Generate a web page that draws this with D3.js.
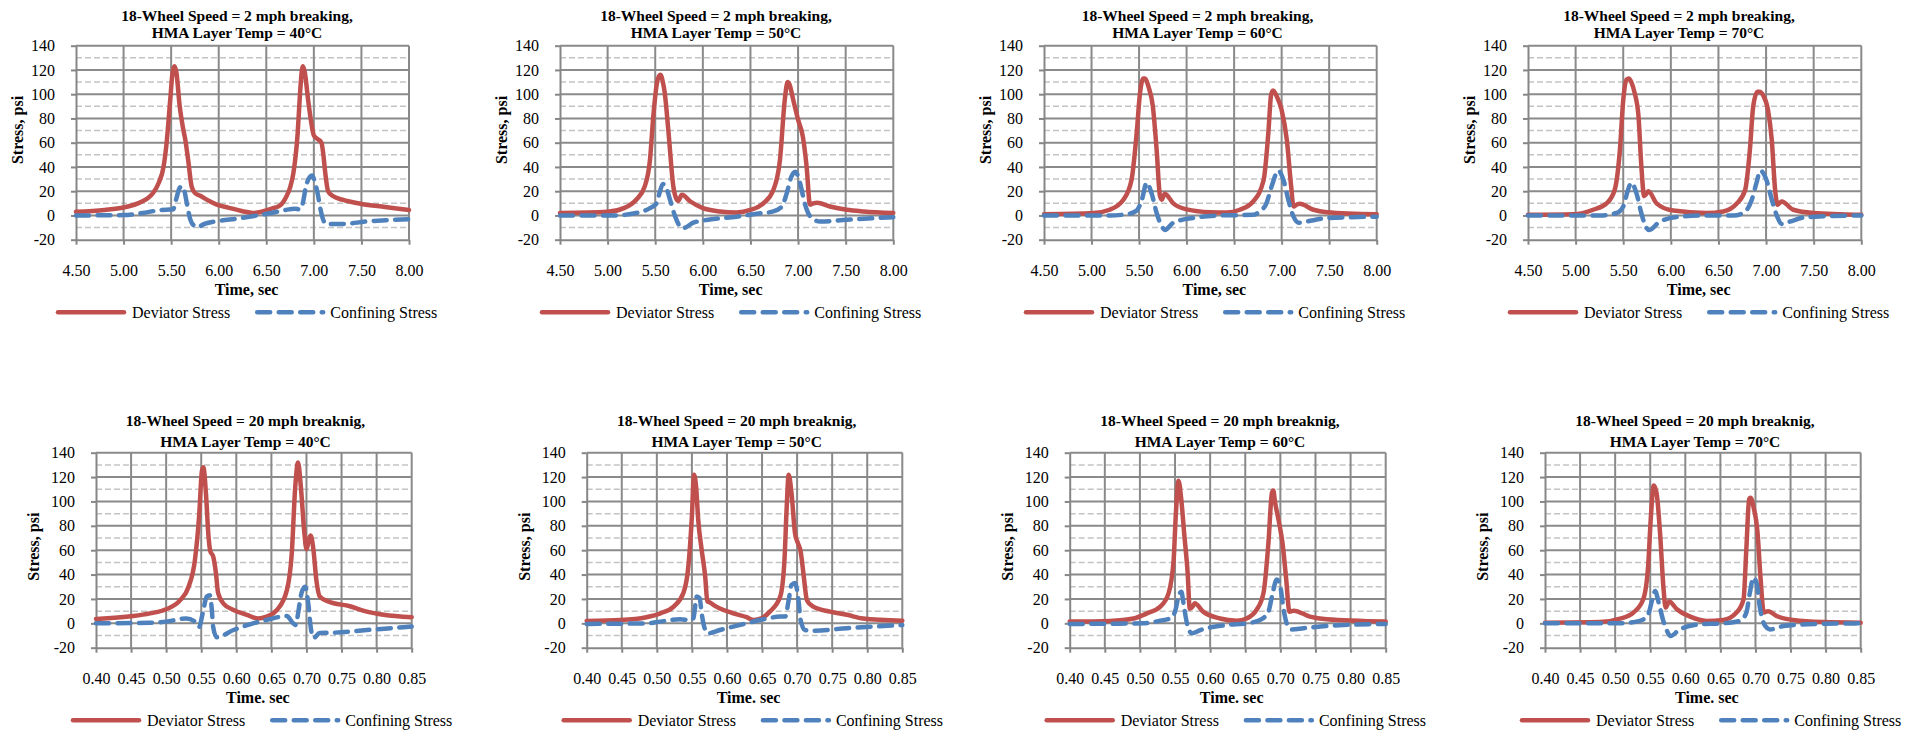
<!DOCTYPE html>
<html>
<head>
<meta charset="utf-8">
<script src="https://cdn.jsdelivr.net/npm/d3@7"></script>
<style>
  html, body { margin: 0; padding: 0; background: #ffffff; }
  svg { display: block; }
</style>
</head>
<body>
<svg id="fig" width="1913" height="732"></svg>
<script>
// ---- Text and tick values ----
const speedTitles = ["18-Wheel Speed = 2 mph breaking,", "18-Wheel Speed = 20 mph breaknig,"];
const tempLabels = ["40°C", "50°C", "60°C", "70°C"];
const xAxisTitles = ["Time, sec", "Time. sec"];
const yAxisTitle = "Stress, psi";
const seriesNames = ["Deviator Stress", "Confining Stress"];
const yTicks = [-20, 0, 20, 40, 60, 80, 100, 120, 140];
const yMinor = [-10, 10, 30, 50, 70, 90, 110, 130];
const xTicks2mph = [4.5, 5.0, 5.5, 6.0, 6.5, 7.0, 7.5, 8.0];
const xTicks20mph = [0.40, 0.45, 0.50, 0.55, 0.60, 0.65, 0.70, 0.75, 0.80, 0.85];

// ---- 2 mph braking: [time (s), stress (psi)] ----
const dev2mph40 = [[4.50,3],[4.80,4.5],[5.00,6.5],[5.15,10],[5.25,14],[5.31,18.5],[5.37,27],[5.42,40],[5.45,58],[5.49,95],[5.515,118],[5.535,123],[5.555,118],[5.59,90],[5.625,72],[5.65,62],[5.68,45],[5.715,24],[5.75,18.5],[5.80,16.5],[5.90,12],[5.98,9],[6.10,6.5],[6.25,3.5],[6.36,2],[6.45,3],[6.55,5.5],[6.64,8],[6.71,15.5],[6.75,23],[6.785,35],[6.83,68],[6.855,101],[6.875,120],[6.885,123],[6.905,118],[6.94,95],[6.97,78],[7.00,66],[7.04,63],[7.08,60],[7.10,50],[7.12,35],[7.15,20],[7.20,16],[7.30,13],[7.50,9.5],[7.75,7],[8.00,4.5]];
const conf2mph40 = [[4.50,0],[5.00,0.3],[5.20,2],[5.35,4],[5.49,5],[5.52,5],[5.555,14],[5.585,22],[5.61,24],[5.64,20],[5.665,10],[5.70,-3],[5.735,-8],[5.78,-9.5],[5.85,-7],[6.00,-4.5],[6.20,-2.5],[6.40,0],[6.55,2],[6.70,4.5],[6.80,5.5],[6.85,5],[6.88,9],[6.92,25],[6.96,32],[6.98,33],[7.01,28],[7.04,18],[7.07,5],[7.10,-4],[7.13,-7],[7.30,-7],[7.55,-5],[7.80,-3.8],[8.00,-3]];

const dev2mph50 = [[4.50,2],[5.00,3],[5.17,6],[5.30,13],[5.39,24],[5.445,46],[5.48,82],[5.525,112],[5.555,116],[5.58,110],[5.60,101],[5.64,68],[5.69,24],[5.72,14],[5.74,12],[5.78,17],[5.87,11.5],[6.00,6],[6.18,3.3],[6.35,2.5],[6.50,4.5],[6.635,10],[6.74,21],[6.81,46],[6.86,95],[6.89,110],[6.91,108],[6.95,95],[7.00,79],[7.05,65],[7.09,40],[7.125,9],[7.16,10],[7.20,10.5],[7.335,7.4],[7.51,4.7],[7.69,3.3],[8.00,2]];
const conf2mph50 = [[4.50,0],[5.06,0],[5.30,2],[5.445,6],[5.515,10],[5.55,20],[5.58,26],[5.61,24],[5.655,13],[5.71,-1],[5.76,-9],[5.795,-10.4],[5.90,-6],[6.11,-3],[6.355,-1],[6.565,1.4],[6.74,3.3],[6.83,7.4],[6.88,18],[6.93,32],[6.97,36],[7.02,27],[7.07,10],[7.14,-2],[7.23,-5],[7.51,-3.6],[8.00,-1.4]];

const dev2mph60 = [[4.50,1],[5.02,2],[5.19,4.7],[5.335,13],[5.42,29],[5.475,68],[5.51,101],[5.545,113],[5.56,113],[5.60,106],[5.645,90],[5.685,54],[5.72,16],[5.74,13],[5.77,18],[5.86,10],[6.00,5],[6.25,2.7],[6.42,2.5],[6.56,4.7],[6.70,11.5],[6.81,29],[6.86,68],[6.89,100],[6.91,103],[6.95,98],[7.00,87],[7.055,62],[7.10,24],[7.125,7.4],[7.16,9],[7.19,9.6],[7.335,4.7],[7.475,2.7],[8.00,1]];
const conf2mph60 = [[4.50,0],[5.19,0],[5.37,1],[5.475,4],[5.53,13],[5.58,27],[5.633,18],[5.685,2],[5.74,-9],[5.77,-12],[5.86,-6],[6.07,-2],[6.35,0],[6.70,0.5],[6.77,3.3],[6.84,10],[6.895,24],[6.965,37],[7.02,29],[7.07,13],[7.125,-1],[7.18,-6],[7.26,-5],[7.475,-2.2],[8.00,-1]];

const dev2mph70 = [[4.50,0.5],[4.975,1],[5.185,4.7],[5.325,10],[5.41,21],[5.465,54],[5.50,95],[5.535,112],[5.56,113],[5.585,110],[5.62,101],[5.66,82],[5.69,41],[5.72,16],[5.745,18],[5.765,20],[5.85,10],[6.025,4],[6.375,2],[6.55,3.3],[6.69,9.6],[6.78,21],[6.83,54],[6.865,90],[6.91,102],[6.93,102],[6.97,99],[7.02,87],[7.06,62],[7.095,21],[7.12,8.8],[7.165,11.5],[7.285,4.7],[7.495,2],[8.00,0.5]];
const conf2mph70 = [[4.50,0],[5.255,0],[5.43,2],[5.50,7.4],[5.55,21],[5.585,27],[5.64,18],[5.69,2],[5.745,-10.4],[5.775,-12],[5.885,-5],[6.095,-1],[6.375,0],[6.655,0],[6.76,2],[6.85,13],[6.90,27],[6.94,37],[7.005,29],[7.06,13],[7.11,0.5],[7.165,-7],[7.25,-5],[7.425,-1.4],[8.00,0]];

// ---- 20 mph braking: [time (s), stress (psi)] ----
const dev20mph40 = [[0.40,3.6],[0.453,6],[0.477,8.2],[0.50,11.5],[0.52,19],[0.532,30],[0.541,52],[0.547,88],[0.551,125],[0.553,128],[0.557,104],[0.56,74],[0.563,59],[0.567,55],[0.571,41],[0.574,25],[0.582,16],[0.596,11],[0.615,7],[0.631,4],[0.643,5.5],[0.658,11],[0.672,27],[0.679,57],[0.684,112],[0.688,132],[0.692,112],[0.697,74],[0.70,61],[0.704,70],[0.706,72],[0.71,60],[0.714,36],[0.719,22],[0.731,18],[0.762,14],[0.786,9.6],[0.81,7],[0.85,5]];
const conf20mph40 = [[0.40,0],[0.477,0.5],[0.50,1.4],[0.529,4],[0.541,1.4],[0.547,-3],[0.552,8],[0.558,22],[0.562,23],[0.565,12],[0.567,-3],[0.572,-11.5],[0.596,-5.5],[0.624,0],[0.643,2.7],[0.672,6],[0.681,0],[0.685,-1.4],[0.688,8],[0.693,25],[0.698,30],[0.703,14],[0.706,-3],[0.71,-12],[0.719,-8],[0.738,-7.7],[0.786,-5.5],[0.85,-2.7]];

const dev20mph50 = [[0.40,2],[0.448,2.7],[0.485,5],[0.505,8.2],[0.524,13.7],[0.538,25],[0.545,47],[0.55,88],[0.553,122],[0.556,112],[0.559,85],[0.564,60],[0.569,38],[0.572,18],[0.576,17],[0.581,15],[0.609,8.2],[0.628,5],[0.638,2.7],[0.649,4],[0.661,9.6],[0.676,22],[0.682,52],[0.685,93],[0.688,122],[0.692,107],[0.697,74],[0.701,66],[0.705,59],[0.709,41],[0.714,19],[0.723,13.7],[0.747,9.6],[0.771,7],[0.794,4],[0.85,2.2]];
const conf20mph50 = [[0.40,-0.5],[0.485,0],[0.505,1.4],[0.533,3.3],[0.547,2.7],[0.552,4],[0.557,22],[0.561,20.6],[0.564,8],[0.569,-5.5],[0.573,-8.2],[0.59,-5.5],[0.628,0],[0.652,3.3],[0.676,5.5],[0.683,5.5],[0.688,19],[0.692,31.5],[0.697,33],[0.702,19],[0.705,2.7],[0.711,-5.5],[0.723,-6],[0.771,-4],[0.85,-1.4]];

const dev20mph60 = [[0.40,1.4],[0.457,2],[0.491,4],[0.51,8.2],[0.529,13.7],[0.541,25],[0.548,52],[0.551,88],[0.555,117],[0.559,101],[0.563,74],[0.568,41],[0.571,12],[0.575,13.7],[0.578,16.5],[0.59,9.6],[0.614,4],[0.638,2.2],[0.652,4],[0.666,11],[0.676,25],[0.683,66],[0.688,107],[0.69,109],[0.692,101],[0.699,80],[0.703,66],[0.708,38],[0.713,9.6],[0.719,10.4],[0.742,5.5],[0.766,3.3],[0.85,1.4]];
const conf20mph60 = [[0.40,-0.5],[0.505,0],[0.529,2.2],[0.543,4],[0.55,9.6],[0.555,22],[0.559,26],[0.562,16.5],[0.567,0],[0.574,-8.2],[0.586,-5.5],[0.624,-1.4],[0.652,0],[0.671,2.7],[0.683,9.6],[0.688,22],[0.695,36],[0.70,30],[0.704,13.7],[0.709,0],[0.716,-5],[0.733,-4],[0.766,-2.2],[0.85,-0.5]];

const dev20mph70 = [[0.40,0.5],[0.478,1],[0.507,3.8],[0.526,8.8],[0.54,19.7],[0.547,47],[0.551,88],[0.555,113],[0.559,107],[0.564,74],[0.569,28],[0.572,12.9],[0.577,18],[0.588,11.5],[0.607,5.5],[0.63,2],[0.654,2.7],[0.673,8.8],[0.683,19.7],[0.687,61],[0.691,102],[0.693,103],[0.697,96],[0.703,74],[0.707,39],[0.712,8.8],[0.718,10],[0.73,6],[0.754,2.7],[0.797,1],[0.85,0.5]];
const conf20mph70 = [[0.40,0],[0.507,0],[0.535,2],[0.547,7.4],[0.554,22],[0.557,26.5],[0.562,17],[0.568,3.3],[0.573,-5],[0.579,-10.4],[0.592,-5],[0.621,-0.8],[0.654,0],[0.678,2],[0.687,8.8],[0.692,25],[0.697,37.5],[0.702,32],[0.706,14],[0.714,-2.2],[0.721,-5],[0.74,-2.2],[0.773,-0.8],[0.85,0]];

const devSeries = [dev2mph40, dev2mph50, dev2mph60, dev2mph70, dev20mph40, dev20mph50, dev20mph60, dev20mph70];
const confSeries = [conf2mph40, conf2mph50, conf2mph60, conf2mph70, conf20mph40, conf20mph50, conf20mph60, conf20mph70];

// ---- Layout of the eight plot areas ----
const rows = [
  { top: 45.7, bottom: 239.7, lefts: [76, 560, 1044, 1528], rights: [409, 893.3, 1376.7, 1861.3],
    titleX: [237, 716, 1197.5, 1679], title1: 20.7, title2: 38.3, yTitleDx: -59, yTitleDy: -12.7,
    legendDx: -20, ticks: xTicks2mph, domain: [4.5, 8.0] },
  { top: 452.7, bottom: 647.7, lefts: [96, 586.7, 1069.7, 1545], rights: [411.7, 902.3, 1385.7, 1860.7],
    titleX: [245.5, 736.7, 1220, 1695], title1: 426, title2: 446.7, yTitleDx: -62.5, yTitleDy: -3.5,
    legendDx: -25, ticks: xTicks20mph, domain: [0.40, 0.85] }
];

const RED = "#C0504D", BLUE = "#4F81BD";
const MAJOR = "#8a8a8a", MINOR = "#c3c3c3", AXIS = "#868686";
const FONT = "16px";
const SERIF = '"Liberation Serif", "Times New Roman", serif';

const svg = d3.select("#fig");
svg.append("rect").attr("width", 1913).attr("height", 732).attr("fill", "#fff");

function label(sel, size, bold) {
  return sel.style("font-family", SERIF).style("font-size", size)
    .style("font-weight", bold ? "bold" : "normal").style("fill", "#000");
}

rows.forEach((row, r) => {
  for (let c = 0; c < 4; c++) {
    const idx = r * 4 + c;
    const left = row.lefts[c], right = row.rights[c];
    const x = d3.scaleLinear().domain(row.domain).range([left, right]);
    const y = d3.scaleLinear().domain([-20, 140]).range([row.bottom, row.top]);
    const g = svg.append("g");

    // minor dashed gridlines
    g.append("g").selectAll("line").data(yMinor).join("line")
      .attr("x1", left).attr("x2", right)
      .attr("y1", d => y(d)).attr("y2", d => y(d))
      .attr("stroke", MINOR).attr("stroke-width", 1.5).attr("stroke-dasharray", "6,3");

    // major gridlines
    g.append("g").selectAll("line").data(yTicks.filter(d => d > -20)).join("line")
      .attr("x1", left).attr("x2", right)
      .attr("y1", d => y(d)).attr("y2", d => y(d))
      .attr("stroke", MAJOR).attr("stroke-width", 2);
    g.append("g").selectAll("line").data(row.ticks.slice(1)).join("line")
      .attr("x1", d => x(d)).attr("x2", d => x(d))
      .attr("y1", row.top).attr("y2", row.bottom)
      .attr("stroke", MAJOR).attr("stroke-width", 2);

    // axes
    const yAxis = g.append("g").attr("transform", `translate(${left},0)`)
      .call(d3.axisLeft(y).tickValues(yTicks).tickSize(5).tickSizeOuter(0).tickPadding(16)
        .tickFormat(d => String(d)));
    const xAxis = g.append("g").attr("transform", `translate(0,${row.bottom})`)
      .call(d3.axisBottom(x).tickValues(row.ticks).tickSize(5).tickSizeOuter(0).tickPadding(19.5)
        .tickFormat(d3.format(".2f")));
    [yAxis, xAxis].forEach(a => {
      a.attr("font-family", null).attr("font-size", null);
      a.selectAll("path, line").attr("stroke", AXIS).attr("stroke-width", 2);
      label(a.selectAll("text"), FONT, false);
    });

    // series: confining stress drawn over deviator stress
    const line = d3.line().x(d => x(d[0])).y(d => y(d[1])).curve(d3.curveMonotoneX);
    g.append("path").datum(devSeries[idx]).attr("d", line)
      .attr("fill", "none").attr("stroke", RED).attr("stroke-width", 4.5)
      .attr("stroke-linejoin", "round").attr("stroke-linecap", "round");
    g.append("path").datum(confSeries[idx]).attr("d", line)
      .attr("fill", "none").attr("stroke", BLUE).attr("stroke-width", 4.5)
      .attr("stroke-dasharray", "13,8.5").attr("stroke-linejoin", "round").attr("stroke-linecap", "round");

    // chart titles
    const tx = row.titleX[c];
    label(g.append("text").attr("x", tx).attr("y", row.title1).attr("text-anchor", "middle"), "15.5px", true)
      .text(speedTitles[r]);
    label(g.append("text").attr("x", tx).attr("y", row.title2).attr("text-anchor", "middle"), "15.5px", true)
      .text("HMA Layer Temp = " + tempLabels[c]);

    // axis titles
    const cx = (left + right) / 2;
    label(g.append("text").attr("x", cx + 4).attr("y", row.bottom + 55).attr("text-anchor", "middle"), FONT, true)
      .text(xAxisTitles[r]);
    const ycy = (row.top + row.bottom) / 2 + row.yTitleDy;
    label(g.append("text")
      .attr("transform", `translate(${left + row.yTitleDx},${ycy}) rotate(-90)`)
      .attr("text-anchor", "middle").attr("dy", "0.35em"), FONT, true)
      .text(yAxisTitle);

    // legend
    const ly = row.bottom + 72.5;
    const lx = left + row.legendDx;
    g.append("line").attr("x1", lx + 2).attr("x2", lx + 68).attr("y1", ly).attr("y2", ly)
      .attr("stroke", RED).attr("stroke-width", 4.5).attr("stroke-linecap", "round");
    const t1 = label(g.append("text").attr("x", lx + 76).attr("y", ly).attr("dy", "0.35em"), FONT, false)
      .text(seriesNames[0]);
    const bx = lx + 76 + t1.node().getComputedTextLength() + 25;
    g.append("line").attr("x1", bx + 2).attr("x2", bx + 68).attr("y1", ly).attr("y2", ly)
      .attr("stroke", BLUE).attr("stroke-width", 4.5).attr("stroke-linecap", "round")
      .attr("stroke-dasharray", "13,8.5");
    label(g.append("text").attr("x", bx + 75).attr("y", ly).attr("dy", "0.35em"), FONT, false)
      .text(seriesNames[1]);
  }
});
</script>
</body>
</html>
